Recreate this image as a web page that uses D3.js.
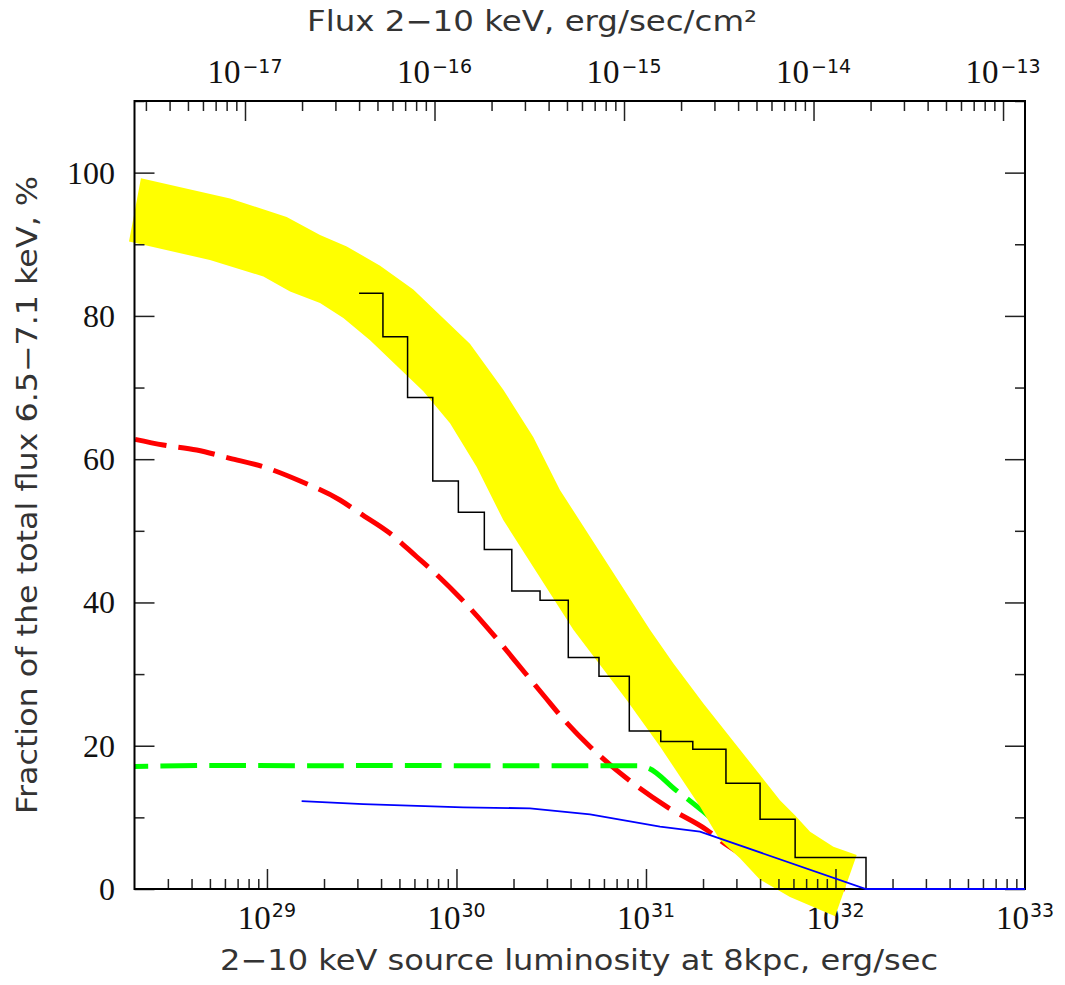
<!DOCTYPE html>
<html>
<head>
<meta charset="utf-8">
<script src="https://cdn.jsdelivr.net/npm/d3@7/dist/d3.min.js"></script>
<style>
  body { margin: 0; background: #fff; }
</style>
</head>
<body>
<div id="chart"></div>
<script>
// luminosity values are log10(L, erg/sec) at 8 kpc, fractions in %

// yellow band: upper and lower edges
var bandUpperLogL = [28.335, 28.805, 29.104, 29.280, 29.421, 29.597, 29.772, 30.071, 30.247, 30.405, 30.546, 31.021, 31.144, 31.303, 31.707, 31.786, 31.866, 31.989, 32.112];
var bandUpperPct  = [99.2, 96.4, 93.8, 91.3, 89.7, 87.0, 83.7, 76.1, 69.7, 63.1, 55.7, 36.2, 31.5, 25.9, 12.4, 10.3, 8.0, 5.9, 4.75];
var bandLowerLogL = [28.272, 28.699, 28.981, 29.122, 29.280, 29.403, 29.544, 29.825, 29.966, 30.107, 30.247, 30.617, 30.898, 31.074, 31.285, 31.391, 31.496, 31.602, 31.760, 31.998];
var bandLowerPct  = [90.4, 87.8, 85.5, 83.4, 81.8, 79.7, 76.6, 69.5, 65.0, 58.9, 51.5, 36.2, 26.4, 19.9, 11.5, 6.8, 4.3, 1.3, -1.1, -3.8];

// black histogram: bin edges and values
var histEdgesLogL = [29.486, 29.612, 29.742, 29.875, 30.010, 30.147, 30.292, 30.441, 30.590, 30.752, 30.912, 31.078, 31.247, 31.422, 31.602, 31.787, 32.161];
var histPct       = [83.15, 77.1, 68.6, 56.95, 52.6, 47.4, 41.6, 40.3, 32.3, 29.7, 22.05, 20.6, 19.5, 14.75, 9.75, 4.4];

// red long-dashed curve
var redLogL = [28.304, 28.453, 28.629, 28.805, 28.985, 29.175, 29.385, 29.491, 29.649, 29.790, 29.913, 30.019, 30.160, 30.362, 30.467, 30.564, 30.705, 30.898, 31.109, 31.321, 31.426, 31.707, 32.050];
var redPct  = [62.77, 61.98, 61.28, 60.12, 58.9, 56.95, 54.30, 52.44, 49.65, 46.38, 43.45, 40.66, 36.57, 30.15, 26.8, 23.73, 19.86, 15.45, 11.49, 8.24, 6.14, 2.2, 0];

// green dashed curve
var greenLogL = [28.301, 28.7, 29.2, 29.7, 30.2, 30.7, 30.951, 31.011, 31.162, 31.215, 31.303, 31.496, 31.707, 31.813];
var greenPct  = [17.1, 17.25, 17.2, 17.25, 17.2, 17.2, 17.2, 16.89, 13.72, 12.66, 10.79, 6.1, 1.5, 0];

// blue thin line
var blueLogL = [29.183, 29.508, 30.036, 30.388, 30.652, 30.705, 31.074, 31.285, 32.161, 33.0];
var bluePct  = [12.28, 11.86, 11.40, 11.26, 10.57, 10.43, 8.70, 8.00, 0, 0];

// tick labels
var lumExponents  = ["29", "30", "31", "32", "33"];
var fluxExponents = ["\u221217", "\u221216", "\u221215", "\u221214", "\u221213"];
var yTickValues   = [0, 20, 40, 60, 80, 100];

var distKpc = 8;

var W = 1065, H = 985;
var box = {left: 134.5, right: 1025, top: 101, bottom: 889};

var svg = d3.select("#chart").append("svg")
    .attr("width", W)
    .attr("height", H);

var x = d3.scaleLog().domain([2e28, 1e33]).range([box.left, box.right]);
var area = 4 * Math.PI * Math.pow(distKpc * 3.0857e21, 2);
var xFlux = d3.scaleLog().domain([2e28 / area, 1e33 / area]).range([box.left, box.right]);
var y = d3.scaleLinear().domain([0, 110]).range([box.bottom, box.top]);

function pts(lx, py) { return lx.map(function(v, i){ return [Math.pow(10, v), py[i]]; }); }

// ---- tick labels ----
var labels = svg.append("g");
lumExponents.forEach(function(e) {
  var t = labels.append("text")
    .attr("x", x(Math.pow(10, +e)))
    .attr("y", 929)
    .attr("text-anchor", "middle")
    .style("fill", "#111");
  t.append("tspan").text("10").style("font-family", "Liberation Serif").style("font-size", "33px");
  t.append("tspan").text(e).attr("dx", 1).attr("dy", -12).style("font-family", "DejaVu Sans").style("font-size", "19px");
});
fluxExponents.forEach(function(e) {
  var v = Math.pow(10, +e.replace("\u2212", "-"));
  var t = labels.append("text")
    .attr("x", xFlux(v))
    .attr("y", 83)
    .attr("text-anchor", "middle")
    .style("fill", "#111");
  t.append("tspan").text("10").style("font-family", "Liberation Serif").style("font-size", "33px");
  t.append("tspan").text(e).attr("dx", 2).attr("dy", -10).style("font-family", "DejaVu Sans").style("font-size", "19px");
});
labels.selectAll(".ylab")
  .data(yTickValues)
  .enter()
  .append("text")
    .attr("x", 115)
    .attr("y", function(d){ return y(d) + 11; })
    .attr("text-anchor", "end")
    .style("font-family", "Liberation Serif")
    .style("font-size", "32px")
    .style("fill", "#111")
    .text(function(d){ return d; });

// axis titles
labels.append("text")
  .attr("x", 579).attr("y", 970)
  .attr("text-anchor", "middle")
  .attr("textLength", 718).attr("lengthAdjust", "spacingAndGlyphs")
  .style("font-family", "DejaVu Sans").style("font-size", "28px").style("fill", "#333")
  .text("2\u221210 keV source luminosity at 8kpc, erg/sec");
labels.append("text")
  .attr("x", 532).attr("y", 31)
  .attr("text-anchor", "middle")
  .attr("textLength", 450).attr("lengthAdjust", "spacingAndGlyphs")
  .style("font-family", "DejaVu Sans").style("font-size", "28px").style("fill", "#333")
  .text("Flux 2\u221210 keV, erg/sec/cm\u00b2");
labels.append("text")
  .attr("transform", "translate(37," + ((box.top + box.bottom) / 2) + ") rotate(-90)")
  .attr("text-anchor", "middle")
  .attr("textLength", 638).attr("lengthAdjust", "spacingAndGlyphs")
  .style("font-family", "DejaVu Sans").style("font-size", "28px").style("fill", "#333")
  .text("Fraction of the total flux 6.5\u22127.1 keV, %");

// ---- curves ----
var smooth = d3.line()
  .x(function(d){ return x(d[0]); })
  .y(function(d){ return y(d[1]); })
  .curve(d3.curveMonotoneX);
var straight = d3.line()
  .x(function(d){ return x(d[0]); })
  .y(function(d){ return y(d[1]); });
var steps = d3.line()
  .x(function(d){ return x(d[0]); })
  .y(function(d){ return y(d[1]); })
  .curve(d3.curveStepAfter);

// red dashed
svg.append("path")
  .attr("d", smooth(pts(redLogL, redPct)))
  .attr("fill", "none")
  .attr("stroke", "#ff0000")
  .attr("stroke-width", 5)
  .attr("stroke-dasharray", "37,12")
  .attr("stroke-dashoffset", 5);

// green dashed
svg.append("path")
  .attr("d", smooth(pts(greenLogL, greenPct)))
  .attr("fill", "none")
  .attr("stroke", "#00ff00")
  .attr("stroke-width", 5)
  .attr("stroke-dasharray", "36.7,12.2")
  .attr("stroke-dashoffset", 23);

// yellow band (drawn over the dashed curves and tick labels)
var band = pts(bandUpperLogL, bandUpperPct).concat(pts(bandLowerLogL, bandLowerPct).reverse());
svg.append("path")
  .attr("d", straight(band) + "Z")
  .attr("fill", "#ffff00")
  .attr("stroke", "none");

// histogram
var hist = histPct.map(function(v, i){ return [Math.pow(10, histEdgesLogL[i]), v]; });
var lastEdge = Math.pow(10, histEdgesLogL[histEdgesLogL.length - 1]);
hist.push([lastEdge, histPct[histPct.length - 1]]);
hist.push([lastEdge, 0]);
svg.append("path")
  .attr("d", steps(hist))
  .attr("fill", "none")
  .attr("stroke", "#000")
  .attr("stroke-width", 1.5);

// ---- ticks and frame ----
function isMajor(v) { var l = Math.log10(v); return Math.abs(l - Math.round(l)) < 1e-6; }
var lumTicks = x.ticks().filter(function(v){ var p = x(v); return p > box.left + 1 && p < box.right - 1; });
var fluxTicks = xFlux.ticks().filter(function(v){ var p = xFlux(v); return p > box.left + 1 && p < box.right - 1; });

function axisGroup(g) { g.select(".domain").remove(); g.selectAll("line").attr("stroke", "#222").attr("stroke-width", 1.5); }

svg.append("g").attr("transform", "translate(0," + box.bottom + ")")
  .call(d3.axisBottom(x).tickValues(lumTicks.filter(isMajor)).tickSize(-20).tickFormat(""))
  .call(axisGroup);
svg.append("g").attr("transform", "translate(0," + box.bottom + ")")
  .call(d3.axisBottom(x).tickValues(lumTicks.filter(function(v){ return !isMajor(v); })).tickSize(-10).tickFormat(""))
  .call(axisGroup);
svg.append("g").attr("transform", "translate(0," + box.top + ")")
  .call(d3.axisTop(xFlux).tickValues(fluxTicks.filter(isMajor)).tickSize(-20).tickFormat(""))
  .call(axisGroup);
svg.append("g").attr("transform", "translate(0," + box.top + ")")
  .call(d3.axisTop(xFlux).tickValues(fluxTicks.filter(function(v){ return !isMajor(v); })).tickSize(-10).tickFormat(""))
  .call(axisGroup);

var yMajor = d3.range(0, 111, 20), yMinor = d3.range(10, 111, 20);
svg.append("g").attr("transform", "translate(" + box.left + ",0)")
  .call(d3.axisLeft(y).tickValues(yMajor).tickSize(-20).tickFormat(""))
  .call(axisGroup);
svg.append("g").attr("transform", "translate(" + box.left + ",0)")
  .call(d3.axisLeft(y).tickValues(yMinor).tickSize(-10).tickFormat(""))
  .call(axisGroup);
svg.append("g").attr("transform", "translate(" + box.right + ",0)")
  .call(d3.axisRight(y).tickValues(yMajor).tickSize(-20).tickFormat(""))
  .call(axisGroup);
svg.append("g").attr("transform", "translate(" + box.right + ",0)")
  .call(d3.axisRight(y).tickValues(yMinor).tickSize(-10).tickFormat(""))
  .call(axisGroup);

svg.append("rect")
  .attr("x", box.left).attr("y", box.top)
  .attr("width", box.right - box.left).attr("height", box.bottom - box.top)
  .attr("fill", "none")
  .attr("stroke", "#000")
  .attr("stroke-width", 2);

// blue line last: its zero part runs along the bottom axis
svg.append("path")
  .attr("d", straight(pts(blueLogL, bluePct)))
  .attr("fill", "none")
  .attr("stroke", "#0000ff")
  .attr("stroke-width", 1.8);
</script>
</body>
</html>
